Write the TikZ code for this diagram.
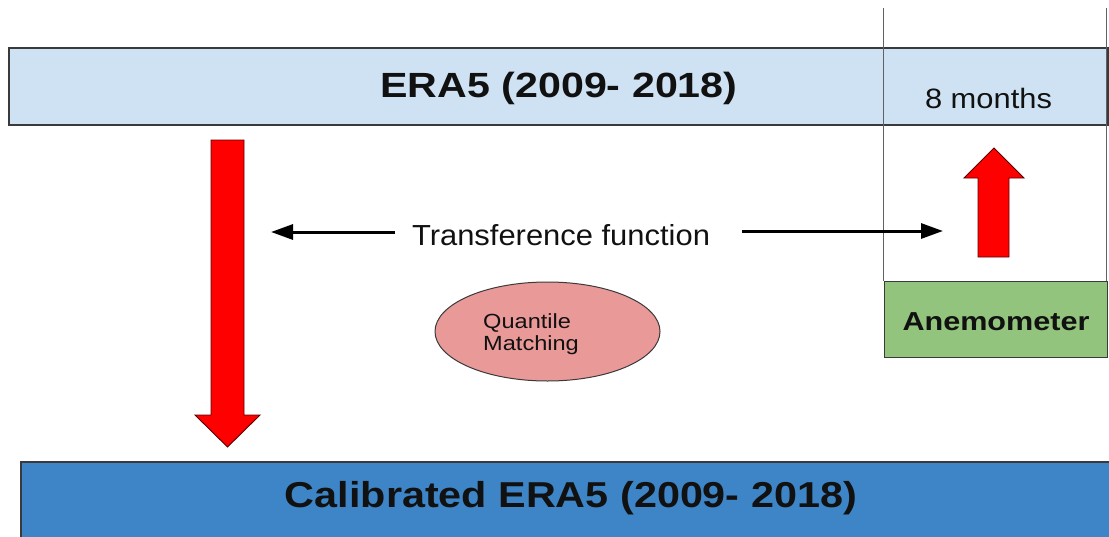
\documentclass[tikz,border=0pt]{standalone}
\usepackage{fontspec}
\setmainfont{Liberation Sans}
\usepackage{graphicx}
\usetikzlibrary{shapes.geometric,arrows.meta}
\definecolor{lightblue}{HTML}{CFE2F3}
\definecolor{darkblue}{HTML}{3D85C6}
\definecolor{anegreen}{HTML}{93C47D}
\definecolor{qpink}{HTML}{EA9999}
\definecolor{edgegray}{HTML}{3A3A3A}
\definecolor{arrowred}{HTML}{FF0000}
\definecolor{arrowedge}{HTML}{5A0000}
\definecolor{textdark}{HTML}{111111}
\tikzset{
  bar/.style={draw=edgegray, line width=1.3pt},
  thinline/.style={draw=edgegray!80, line width=0.9pt},
  redarrow/.style={fill=arrowred, draw=arrowedge, line width=0.9pt, line join=miter},
  blackarrow/.style={line width=3pt, -{Triangle[length=22pt,width=15pt]}},
  lbl/.style={inner sep=0pt, anchor=base, text=textdark},
}
\newcommand\fitw[2]{\resizebox{#1}{\height}{#2}}
\newcommand\sx[1]{\scalebox{1.15}[1]{#1}}
\begin{document}
\begin{tikzpicture}[x=1pt,y=-1pt]
\useasboundingbox (0,0) rectangle (1109,536);
% ERA5 bar
\path[bar, fill=lightblue] (9,48) rectangle (1108,125);
% vertical guide lines
\draw[thinline] (883,8) -- (883,281);
\draw[thinline] (1106,8) -- (1106,281);
\node[lbl] (era) at (559,97) {\fitw{357pt}{\fontsize{35pt}{40pt}\selectfont\bfseries ERA5 (2009- 2018)}};
\node[lbl] (months) at (988.5,108) {\fitw{127pt}{\fontsize{28pt}{32pt}\selectfont 8 months}};
% anemometer
\path[bar, line width=1pt, fill=anegreen] (884,281) rectangle (1107,357);
\node[lbl] (anemo) at (996,330) {\fitw{187pt}{\fontsize{26pt}{30pt}\selectfont\bfseries Anemometer}};
% red up arrow
\path[redarrow] (978,257) -- (978,178) -- (964,178) -- (994,148) -- (1024,178) -- (1009,178) -- (1009,257) -- cycle;
% red down arrow
\path[redarrow] (211,140) -- (244,140) -- (244,415) -- (260,415) -- (227.5,447) -- (195,415) -- (211,415) -- cycle;
% transference
\node[lbl] (tf) at (561,245) {\fitw{298pt}{\fontsize{29pt}{33pt}\selectfont Transference function}};
\coordinate (tfLs) at (395,232);
\coordinate (tfLe) at (271,232);
\coordinate (tfRs) at (742,231);
\coordinate (tfRe) at (943,231);
\draw[blackarrow] (tfLs) -- (tfLe);
\draw[blackarrow] (tfRs) -- (tfRe);
% quantile matching
\node[ellipse, draw=edgegray, line width=1pt, fill=qpink, minimum width=225pt, minimum height=99pt, inner sep=0pt] (qm) at (547.5,331.5) {};
\node[lbl, anchor=base west] (qmt1) at (483,328) {\sx{\fontsize{20.5pt}{22pt}\selectfont Quantile}};
\node[lbl, anchor=base west] (qmt2) at (483,350) {\sx{\fontsize{20.5pt}{22pt}\selectfont Matching}};
% calibrated bar
\path[bar, fill=darkblue] (21,462) rectangle (1115,545);
\node[lbl] (cal) at (571,507) {\fitw{572pt}{\fontsize{36pt}{40pt}\selectfont\bfseries Calibrated ERA5 (2009- 2018)}};
\end{tikzpicture}
\end{document}
